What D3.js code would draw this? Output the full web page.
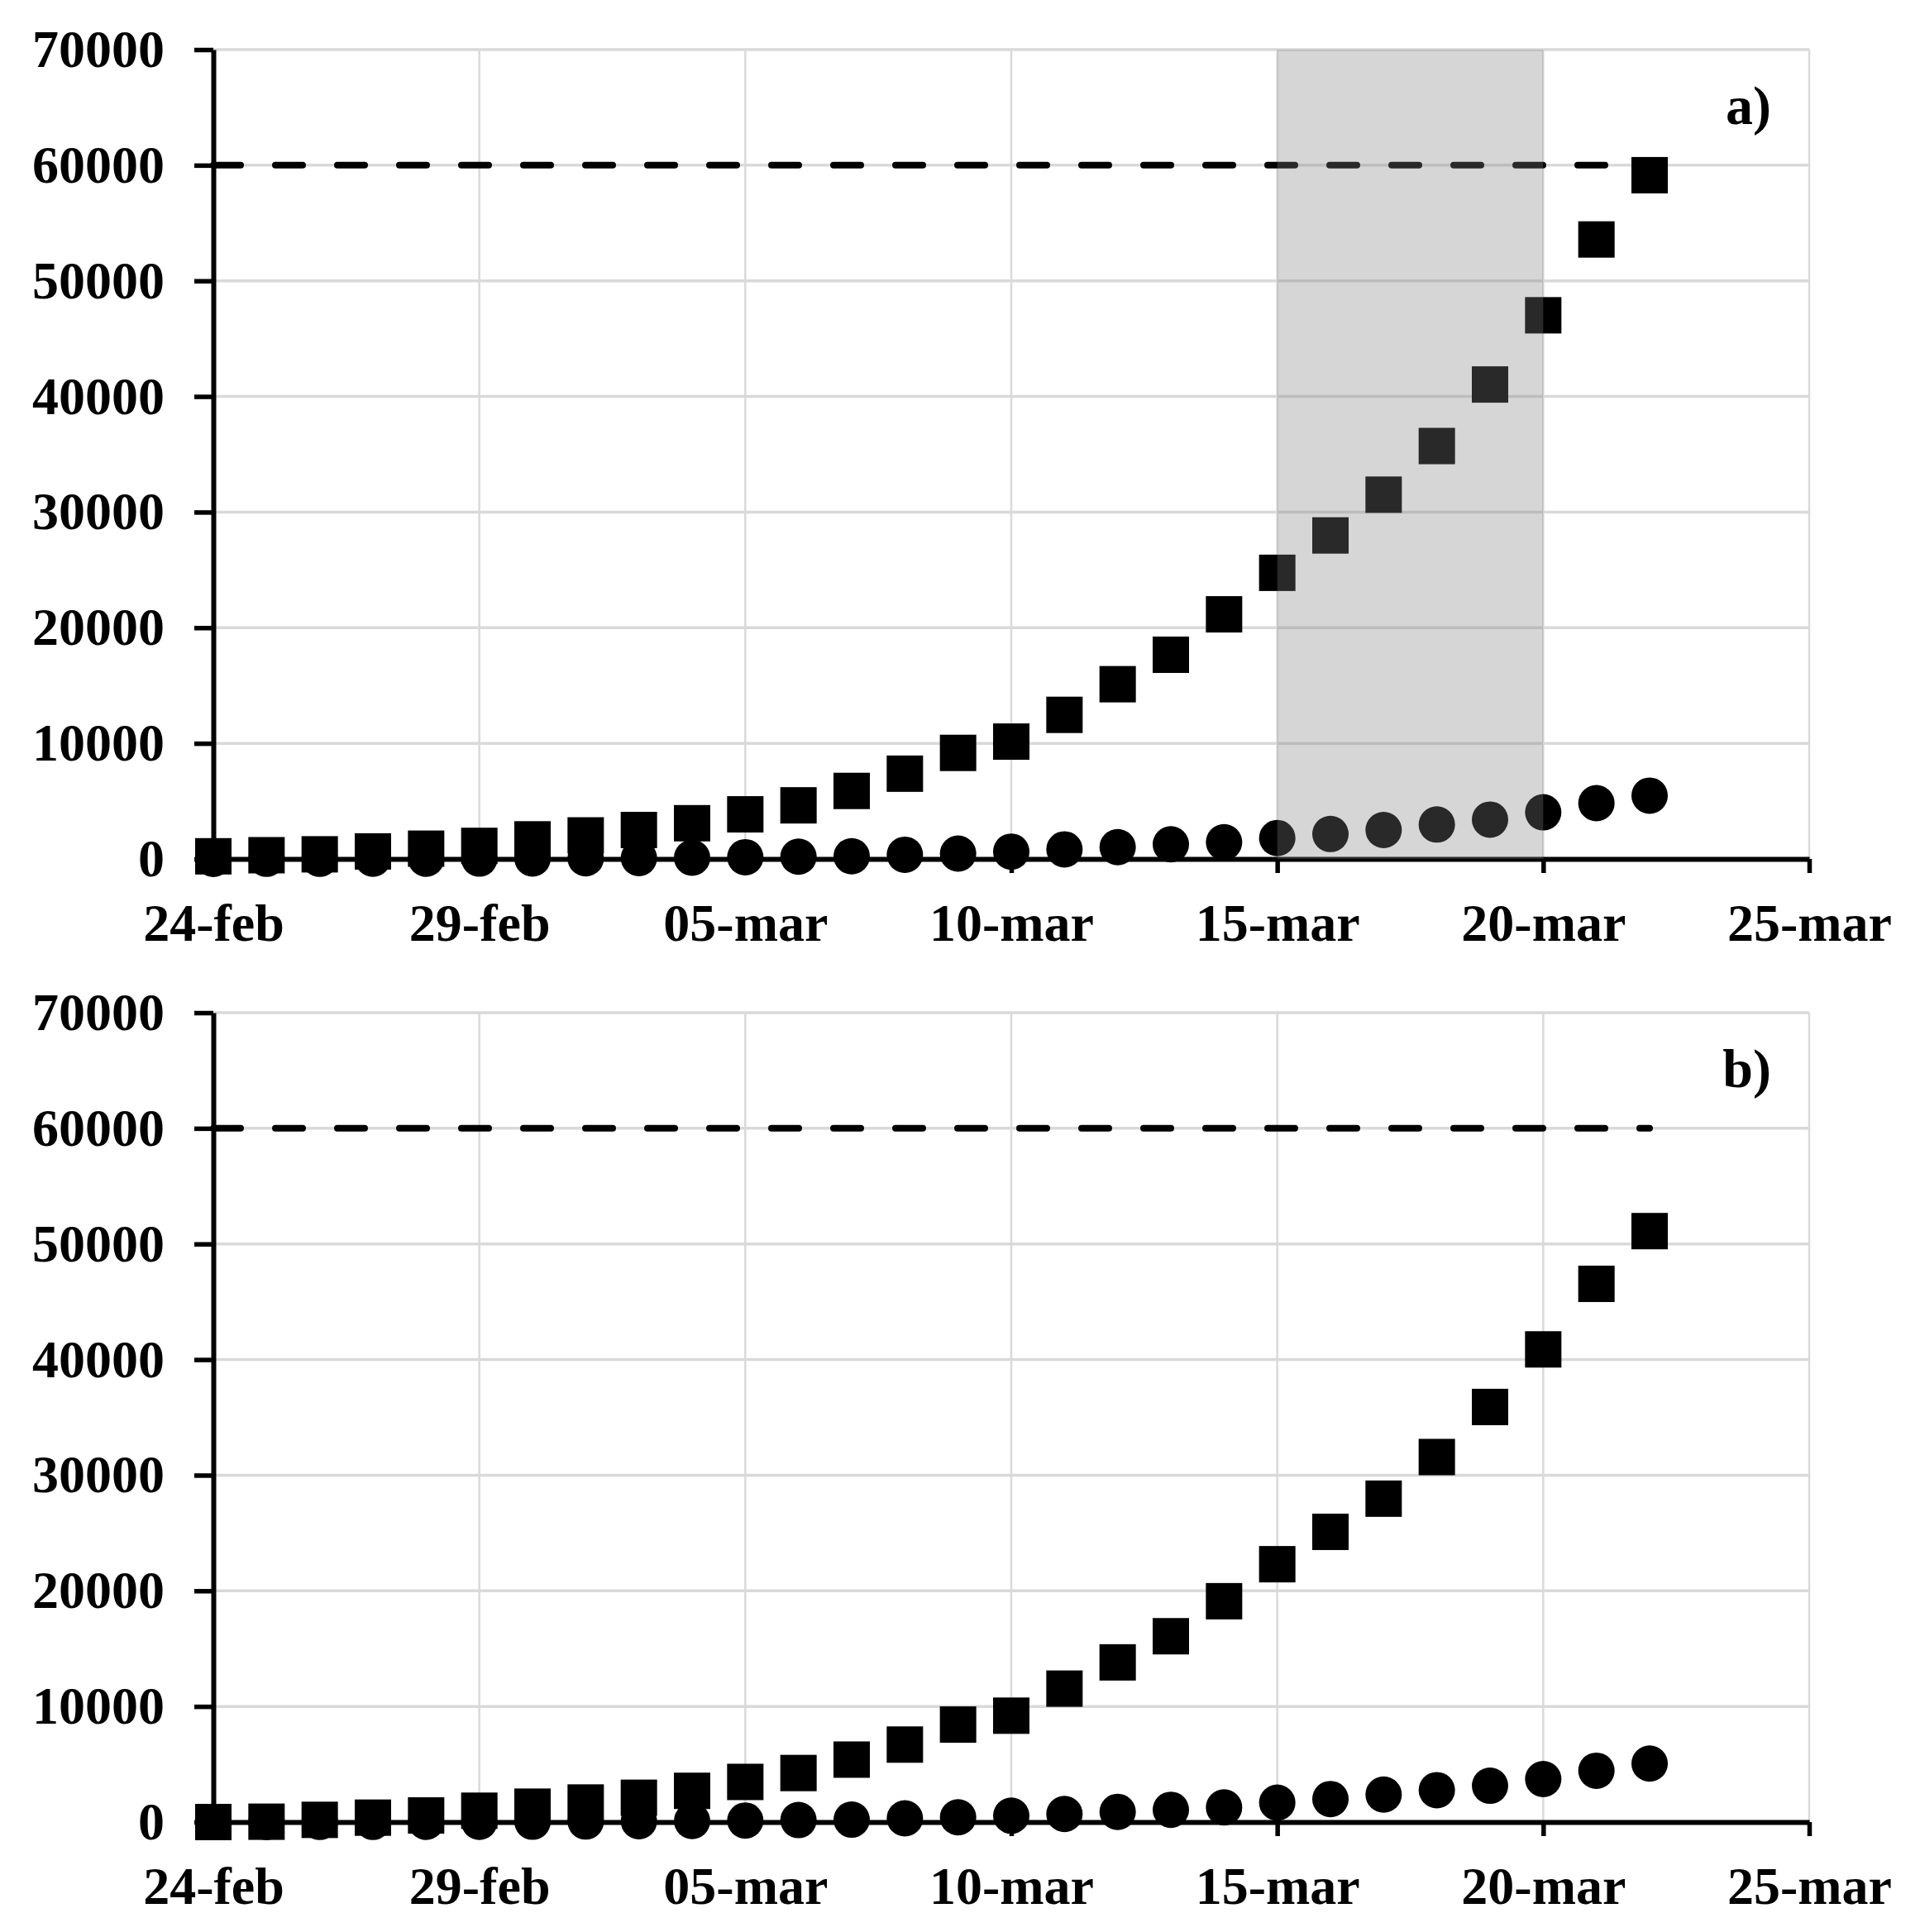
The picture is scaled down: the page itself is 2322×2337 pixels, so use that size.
<!DOCTYPE html>
<html>
<head>
<meta charset="utf-8">
<script src="https://cdn.jsdelivr.net/npm/d3@7"></script>
<style>
  body { margin: 0; background: #fff; }
  .tick text, .lbl { font-family: "Liberation Serif", "Times New Roman", serif; font-weight: bold; fill: #000; }
</style>
</head>
<body>
<div id="vis"></div>
<script>
//Days shown in both panels
var days = ["2020-02-24", "2020-02-25", "2020-02-26", "2020-02-27", "2020-02-28", "2020-02-29",
            "2020-03-01", "2020-03-02", "2020-03-03", "2020-03-04", "2020-03-05", "2020-03-06",
            "2020-03-07", "2020-03-08", "2020-03-09", "2020-03-10", "2020-03-11", "2020-03-12",
            "2020-03-13", "2020-03-14", "2020-03-15", "2020-03-16", "2020-03-17", "2020-03-18",
            "2020-03-19", "2020-03-20", "2020-03-21", "2020-03-22"];

//Panel a) values
var squaresA = [229, 322, 400, 650, 888, 1128, 1694, 2036, 2502, 3089, 3858, 4636, 5883, 7375,
                9172, 10149, 12462, 15113, 17660, 21157, 24747, 27980, 31506, 35713, 41035,
                47021, 53578, 59138];
var circlesA = [7, 10, 12, 17, 21, 29, 34, 52, 79, 107, 148, 197, 233, 366, 463, 631, 827, 1016,
                1266, 1441, 1809, 2158, 2503, 2978, 3405, 4032, 4825, 5476];

//Panel b) values
var squaresB = [0, 30, 190, 380, 570, 980, 1330, 1690, 2100, 2700, 3470, 4240, 5400, 6700, 8430,
                9200, 11540, 13810, 16070, 19100, 22300, 25100, 27970, 31570, 35900, 40880,
                46550, 51110];
var circlesB = [5, 8, 10, 14, 18, 24, 30, 45, 68, 95, 130, 170, 210, 320, 410, 550, 700, 880,
                1060, 1270, 1680, 1990, 2380, 2760, 3140, 3720, 4440, 5060];

//Reference level and shaded period (panel a only)
var threshold = 60000;
var shadePeriod = ["2020-03-15", "2020-03-20"];

//Axes
var xDomain = ["2020-02-24", "2020-03-25"];
var xTickDates = ["2020-02-24", "2020-02-29", "2020-03-05", "2020-03-10", "2020-03-15", "2020-03-20", "2020-03-25"];
var xTickLabels = ["24-feb", "29-feb", "05-mar", "10-mar", "15-mar", "20-mar", "25-mar"];
var yTicks = [0, 10000, 20000, 30000, 40000, 50000, 60000, 70000];

var parse = d3.utcParse("%Y-%m-%d");

var W = 2322, H = 2337;
var left = 258, plotW = 1930, plotH = 979;

var svg = d3.select("#vis").append("svg")
    .attr("width", W)
    .attr("height", H);

svg.append("rect").attr("width", W).attr("height", H).attr("fill", "#fff");

var x = d3.scaleUtc().domain(xDomain.map(parse)).range([0, plotW]);
var y = d3.scaleLinear().domain([0, 70000]).range([plotH, 0]);

function drawPanel(top, squares, circles, label, shade) {
  var g = svg.append("g").attr("transform", "translate(" + left + "," + top + ")");

  //gridlines
  g.selectAll(".hgrid").data(yTicks.slice(1)).enter().append("line")
    .attr("x1", 0).attr("x2", plotW)
    .attr("y1", function(d) { return y(d); }).attr("y2", function(d) { return y(d); })
    .attr("stroke", "#d9d9d9").attr("stroke-width", 3.5);
  g.selectAll(".vgrid").data(xTickDates.slice(1)).enter().append("line")
    .attr("x1", function(d) { return x(parse(d)); }).attr("x2", function(d) { return x(parse(d)); })
    .attr("y1", y(0)).attr("y2", y(70000))
    .attr("stroke", "#d9d9d9").attr("stroke-width", 2.5);

  //dashed reference line over the data range
  g.append("line")
    .attr("x1", x(parse(days[0]))).attr("x2", x(parse(days[days.length - 1])))
    .attr("y1", y(threshold)).attr("y2", y(threshold))
    .attr("stroke", "#000").attr("stroke-width", 8)
    .attr("stroke-dasharray", "33,42").attr("stroke-linecap", "round");

  //markers
  g.selectAll(".sq").data(squares).enter().append("rect")
    .attr("x", function(d, i) { return x(parse(days[i])) - 22; })
    .attr("y", function(d) { return y(d) - 22; })
    .attr("width", 44).attr("height", 44)
    .attr("fill", "#000");
  g.selectAll(".ci").data(circles).enter().append("circle")
    .attr("cx", function(d, i) { return x(parse(days[i])); })
    .attr("cy", function(d) { return y(d); })
    .attr("r", 22)
    .attr("fill", "#000");

  //axes
  var yAxis = g.append("g")
    .call(d3.axisLeft(y).tickValues(yTicks).tickSize(23).tickSizeOuter(0).tickPadding(36)
      .tickFormat(d3.format("d")));
  var xAxis = g.append("g").attr("transform", "translate(0," + plotH + ")")
    .call(d3.axisBottom(x).tickValues(xTickDates.map(parse)).tickSize(17).tickSizeOuter(0).tickPadding(37)
      .tickFormat(function(d, i) { return xTickLabels[i]; }));

  [yAxis, xAxis].forEach(function(a) {
    a.attr("font-size", 64).attr("font-family", null);
    a.select(".domain").attr("stroke", "#000").attr("stroke-width", 6);
    a.selectAll(".tick line").attr("stroke", "#000").attr("stroke-width", 5.5);
  });

  //shaded period, translucent over everything
  if (shade) {
    g.append("rect")
      .attr("x", x(parse(shade[0])))
      .attr("y", y(70000))
      .attr("width", x(parse(shade[1])) - x(parse(shade[0])))
      .attr("height", y(0) - y(70000))
      .attr("fill", "#7e7e7e")
      .attr("fill-opacity", 0.32);
  }

  //panel label
  g.append("text").attr("class", "lbl")
    .attr("x", 1884).attr("y", 90)
    .attr("text-anchor", "end")
    .attr("font-size", 66)
    .text(label);
}

drawPanel(60, squaresA, circlesA, "a)", shadePeriod);
drawPanel(1225, squaresB, circlesB, "b)", null);
</script>
</body>
</html>
